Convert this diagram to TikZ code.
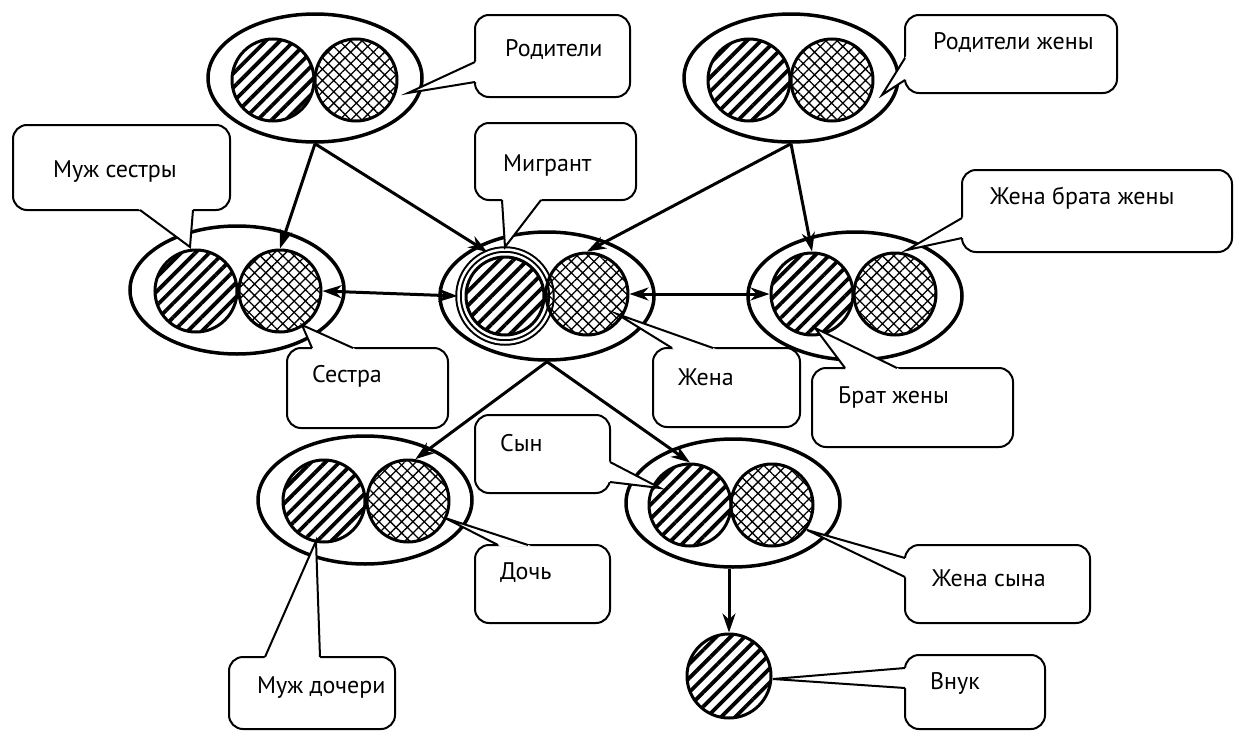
\documentclass[tikz,border=0pt]{standalone}
\usepackage{fontspec}
\setmainfont{PT Sans}
\usetikzlibrary{shapes.geometric, patterns.meta, arrows.meta, calc}
\newcommand{\tail}[3]{%
  \fill[white] ($(#1)!-4pt!(#2)$) -- (#2) -- ($(#3)!-4pt!(#2)$) -- cycle;
  \draw[line width=2pt] (#1) -- (#2) -- (#3);}

\begin{document}
\begin{tikzpicture}[x=1pt, y=-1pt,
    couple/.style={draw, ellipse, line width=3.5pt, minimum width=214pt, minimum height=128pt, inner sep=0pt},
    he/.style={draw, circle, line width=3pt, minimum size=82pt, inner sep=0pt,
      pattern={Lines[angle=45, distance=10pt, line width=3.8pt]}},
    she/.style={draw, circle, line width=3pt, minimum size=82pt, inner sep=0pt,
      pattern={Hatch[angle=45, distance=8pt, line width=1.3pt]}},
    bubble/.style={draw, fill=white, rounded corners=14pt, line width=2pt, inner sep=0pt},
    lbl/.style={anchor=west, inner sep=0pt, font=\fontsize{24}{28}\selectfont},
    link/.style={line width=3pt, -{Stealth[length=19pt, width=13pt, inset=6pt]}},
    both/.style={line width=3pt, {Stealth[length=19pt, width=13pt, inset=6pt]}-{Stealth[length=19pt, width=13pt, inset=6pt]}}]
  \useasboundingbox (0,0) rectangle (1243,731);

  % couples
  \node[couple] (cPar) at (315,78) {};
  \node[he] (mPar) at (273,80) {};
  \node[she] (fPar) at (356,80) {};
  \node[couple] (cParW) at (791,78) {};
  \node[he] (mParW) at (749,80) {};
  \node[she] (fParW) at (832,80) {};
  \node[couple] (cSis) at (237,290) {};
  \node[he] (mSis) at (196,291) {};
  \node[she] (fSis) at (280,291) {};
  \node[couple] (cMig) at (547,296) {};
  \node[he, minimum size=78pt] (mMig) at (505,296) {};
  \node[draw, circle, double, double distance=2.5pt, line width=2pt, minimum size=93pt] (ring) at (505,296) {};
  \node[she] (fMig) at (587,294) {};
  \node[couple] (cBW) at (855,296) {};
  \node[he] (mBW) at (812,294) {};
  \node[she] (fBW) at (895,294) {};
  \node[couple] (cDau) at (365,500) {};
  \node[he] (mDau) at (324,501) {};
  \node[she] (fDau) at (408,501) {};
  \node[couple] (cSon) at (733,503) {};
  \node[he] (mSon) at (690,505) {};
  \node[she] (fSon) at (772,505) {};
  \node[he, minimum size=84pt] (mGS) at (729,676) {};

  % arrows
  \draw[link] (cPar.south) -- (fSis.north);
  \draw[link] (cPar.south) -- (ring.112);
  \draw[link] (cParW.south) -- (fMig.north);
  \draw[link] (cParW.south) -- (mBW.north);
  \draw[both] (fSis.east) -- (ring.west);
  \draw[both] (fMig.east) -- (mBW.west);
  \draw[link] (cMig.south) -- (fDau.80);
  \draw[link] (cMig.south) -- (mSon.north);
  \draw[link] (cSon.south -| mGS.north) -- (mGS.north);

  % callouts
  \node[bubble, minimum width=155pt, minimum height=82pt] (bRod) at (552.5,56) {};
  \node[lbl] (tRod) at (505,50) {Родители};
  \tail{475,62}{408,93}{475,82}
  \node[bubble, minimum width=212pt, minimum height=78pt] (bRodW) at (1011,54) {};
  \node[lbl] (tRodW) at (933,43) {Родители жены};
  \tail{905,58}{882,95}{905,80}
  \node[bubble, minimum width=217pt, minimum height=85pt] (bMS) at (121.5,167.5) {};
  \node[lbl] (tMS) at (53,172) {Муж сестры};
  \tail{140,210}{190,247}{193,210}
  \node[bubble, minimum width=161pt, minimum height=77pt] (bMig) at (555.5,161.5) {};
  \node[lbl] (tMig) at (503,165) {Мигрант};
  \tail{502,200}{505,247}{541,200}
  \node[bubble, minimum width=270pt, minimum height=82pt] (bWBW) at (1097,211) {};
  \node[lbl] (tWBW) at (990,198) {Жена брата жены};
  \tail{962,218}{907,250}{962,238}
  \node[bubble, minimum width=161pt, minimum height=80pt] (bSis) at (367.5,388) {};
  \node[lbl] (tSis) at (312,376) {Сестра};
  \tail{312,348}{302,325}{353,348}
  \node[bubble, minimum width=147pt, minimum height=79pt] (bWife) at (726.5,387.5) {};
  \node[lbl] (tWife) at (678,377) {Жена};
  \tail{672,348}{617,314}{713,348}
  \node[bubble, minimum width=201pt, minimum height=79pt] (bBW) at (912.5,407.5) {};
  \node[lbl] (tBW) at (838,397) {Брат жены};
  \tail{845,368}{815,328}{897,368}
  \node[bubble, minimum width=135pt, minimum height=78pt] (bSon) at (542.5,454) {};
  \node[lbl] (tSon) at (500,443) {Сын};
  \tail{610,462}{660,488}{610,482}
  \node[bubble, minimum width=135pt, minimum height=78pt] (bDau) at (542.5,584) {};
  \node[lbl] (tDau) at (500,573) {Дочь};
  \tail{498,545}{445,518}{528,545}
  \node[bubble, minimum width=185pt, minimum height=78pt] (bSW) at (997.5,584) {};
  \node[lbl] (tSW) at (932,578) {Жена сына};
  \tail{905,558}{807,530}{905,577}
  \node[bubble, minimum width=166pt, minimum height=72pt] (bDH) at (312,693) {};
  \node[lbl] (tDH) at (257,688) {Муж дочери};
  \tail{265,657}{316,541}{320,657}
  \node[bubble, minimum width=140pt, minimum height=74pt] (bGS) at (975,692) {};
  \node[lbl] (tGS) at (930,683) {Внук};
  \tail{905,668}{773,679}{905,688}
\end{tikzpicture}
\end{document}
